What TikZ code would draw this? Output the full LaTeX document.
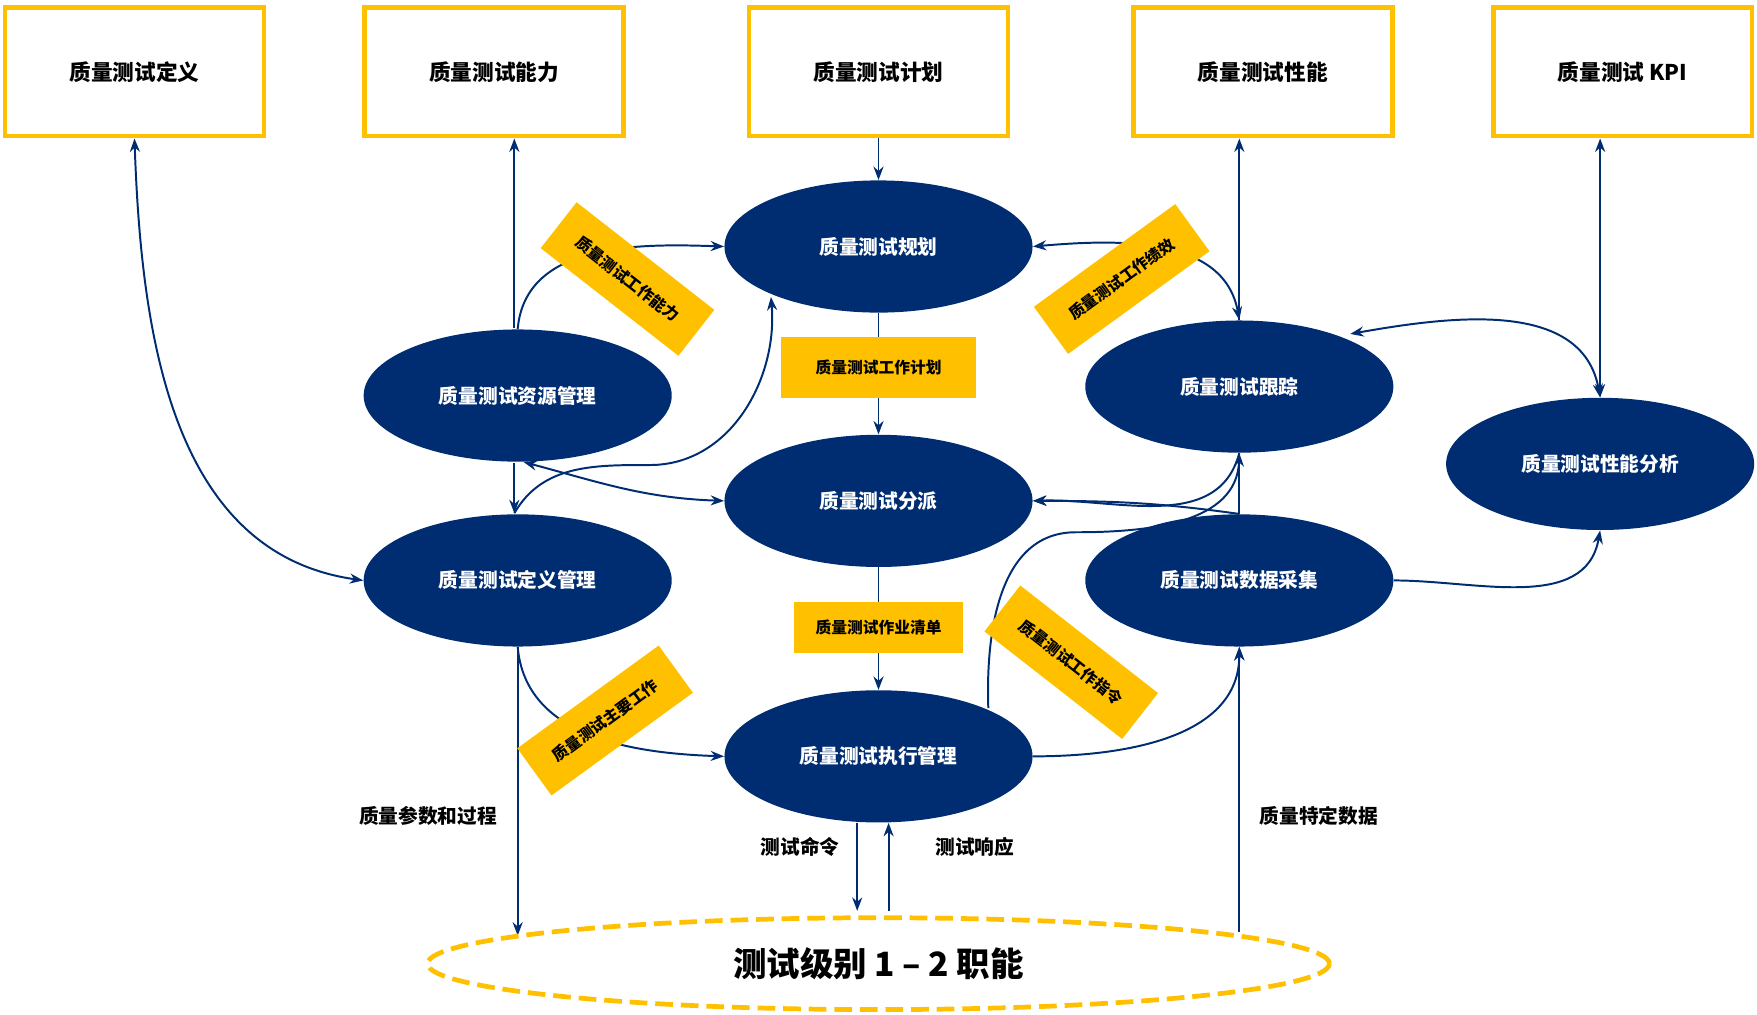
\documentclass[tikz,border=0pt]{standalone}
\usepackage{fontspec}
\setmainfont{Noto Sans CJK SC}
\usepackage{tikz}
\usetikzlibrary{calc,positioning,arrows.meta,shapes,backgrounds}
\definecolor{navy}{RGB}{0,45,114}
\definecolor{gold}{RGB}{255,192,0}
\begin{document}
\begin{tikzpicture}[x=0.02cm, y=-0.02cm, align=center, font=\bfseries,
    >={Stealth[length=2.4mm,width=1.8mm]},
    topbox/.style={draw=gold, line width=2.4pt, minimum width=4.62cm, minimum height=2.3cm, font=\bfseries\fontsize{11}{13}\selectfont},
    proc/.style={ellipse, fill=navy, text=white, minimum width=5.5cm, minimum height=2.36cm, inner sep=0pt, font=\bfseries\fontsize{10}{12}\selectfont},
    tag/.style={fill=gold, inner sep=0pt, font=\bfseries\fontsize{8}{10}\selectfont},
    flow/.style={navy, line width=1pt},
    note/.style={font=\bfseries\fontsize{10}{12}\selectfont}]
    \useasboundingbox (0,0) rectangle (1568,905);

    % top boxes
    \node [topbox] (qdef) at (120,64) {质量测试定义};
    \node [topbox] (qcap) at (441,64) {质量测试能力};
    \node [topbox] (qplan) at (784,64) {质量测试计划};
    \node [topbox] (qperf) at (1127,64) {质量测试性能};
    \node [topbox] (qkpi) at (1448,64) {质量测试 KPI};

    % processes
    \node [proc] (plan) at (784,220) {质量测试规划};
    \node [proc] (res) at (462,353) {质量测试资源管理};
    \node [proc] (dis) at (784,447) {质量测试分派};
    \node [proc] (trk) at (1106,345) {质量测试跟踪};
    \node [proc] (ana) at (1428,414) {质量测试性能分析};
    \node [proc] (dm) at (462,518) {质量测试定义管理};
    \node [proc] (col) at (1106,518) {质量测试数据采集};
    \node [proc] (exe) at (784,675) {质量测试执行管理};

    % level ellipse
    \node [ellipse, draw=gold, line width=2.4pt, dash pattern=on 9pt off 4pt, minimum width=16.1cm, minimum height=1.64cm, font=\bfseries\fontsize{17}{19}\selectfont] (lvl) at (784,860) {测试级别 1 -- 2 职能};
    \coordinate (lvlA) at (462,835);
    \coordinate (lvlB) at (1106,832);

    % tags
    \node [tag, minimum width=3.48cm, minimum height=1.08cm] (tplan) at (784,328) {质量测试工作计划};
    \node [tag, minimum width=3.0cm, minimum height=0.92cm] (tlist) at (784,560) {质量测试作业清单};
    \node [tag, minimum width=3.12cm, minimum height=1.04cm, rotate=-38] (tcap) at (560,249) {质量测试工作能力};
    \node [tag, minimum width=3.12cm, minimum height=1.04cm, rotate=36] (tperf) at (1001,249) {质量测试工作绩效};
    \node [tag, minimum width=3.12cm, minimum height=1.04cm, rotate=36] (tmain) at (540,643) {质量测试主要工作};
    \node [tag, minimum width=3.12cm, minimum height=1.04cm, rotate=-38] (tcmd) at (956,591) {质量测试工作指令};

    % connectors
    \coordinate (rs) at (459,413);
    \coordinate (dn) at (459,458);
    \coordinate (rn) at (459,293);
    \coordinate (pin) at (688,265);
    \coordinate (tne) at (1205,298);
    \coordinate (eout) at (882,632);
    \begin{scope}[on background layer]
    \draw[flow, ->] (qplan) -- (plan);
    \draw[flow, ->] (plan) -- (dis);
    \draw[flow, ->] (dis) -- (exe);
    \draw[flow, ->] (rn) -- (qcap.south -| rn);
    \draw[flow, ->] (res.north) to[out=85,in=178] (plan.west);
    \draw[flow, <->] (qdef.south) to[out=-88,in=172] (dm.west);
    \draw[flow, ->] (rs) -- (dn);
    \draw[flow, ->] (dn) to[out=60,in=180] (580,415) to[out=0,in=-85] (pin);
    \draw[flow, <->] (res.-85) to[out=-15,in=178] (dis.west);
    \draw[flow, ->] (dm.south) -- (lvlA);
    \draw[flow, ->] (dm.south) to[out=-85,in=178] (exe.west);
    \draw[flow, ->] ($(exe.south)+(-19,0)$) -- ($(lvl.north)+(-19,-4)$);
    \draw[flow, ->] ($(lvl.north)+(9,-4)$) -- ($(exe.south)+(9,0)$);
    \draw[flow, ->] (exe.east) to[out=0,in=-90] (col.south);
    \draw[flow, ->] (lvlB) -- (col.south);
    \draw[flow, ->] (eout) to[out=92,in=180] (960,475) to[out=0,in=-92] (trk.south);
    \draw[flow] (col.north) -- (trk.south);
    \draw[flow, ->] (col.north) to[out=172,in=0] (dis.east);
    \draw[flow, ->] (trk.south) to[out=-105,in=2] (dis.east);
    \draw[flow, ->] (trk.north) -- (qperf.south -| trk.north);
    \draw[flow, <->] (plan.east) to[out=5,in=100] (trk.north);
    \draw[flow, <->] (tne) to[out=10,in=100] (ana.north);
    \draw[flow, <->] (qkpi.south -| ana.north) -- (ana.north);
    \draw[flow, ->] (col.east) to[out=0,in=-100] (ana.south);
    \end{scope}

    % bottom labels
    \node [note] (lparam) at (382,728) {质量参数和过程};
    \node [note] (lcmd) at (714,756) {测试命令};
    \node [note] (lresp) at (870,756) {测试响应};
    \node [note] (ldata) at (1177,728) {质量特定数据};
\end{tikzpicture}
\end{document}
